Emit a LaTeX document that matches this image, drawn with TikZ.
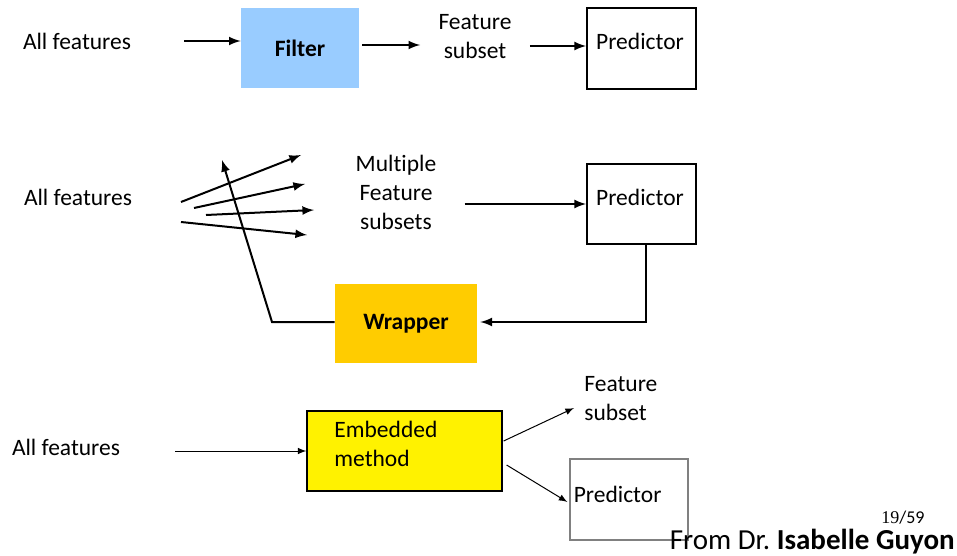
\documentclass[tikz,border=0pt]{standalone}
\usepackage{fontspec}
\setmainfont[Ligatures=CommonOff]{Carlito}
\newfontfamily\numfont{Liberation Serif}
\usetikzlibrary{positioning}

\definecolor{filterblue}{RGB}{153,204,255}
\definecolor{wrapgold}{RGB}{255,204,0}

\tikzset{
	txt/.style={inner sep=0pt, align=center, font=\fontsize{11.75}{14.5}\selectfont},
	box/.style={inner sep=0pt, minimum width=#1},
	arr/.style={-latex, line width=1pt},
	thinarr/.style={-latex, line width=0.5pt}
}

\begin{document}
\begin{tikzpicture}[x=0.5pt,y=-0.5pt]
	\useasboundingbox (0,0) rectangle (957,556);

	% filter
	\node[txt] (all1) at (77,41) {All features};
	\node[box=59pt, minimum height=40pt, fill=filterblue, txt, font=\fontsize{11.75}{14.5}\selectfont\bfseries] (filter) at (300,48) {Filter};
	\node[txt] (sub1) at (475,37) {Feature\\subset};
	\node[box=54.5pt, minimum height=40.5pt, draw, line width=1pt] (pred1) at (641.5,48.5) {};
	\node[txt] (predtxt1) at (640,41) {Predictor};
	\draw[arr, shorten <=26.5pt] (all1.east) -- (all1.east -| filter.west);
	\draw[arr, shorten <=1.5pt, shorten >=9pt] ([yshift=1.5pt]filter.east) -- ([yshift=1.5pt]filter.east -| sub1.west);
	\draw[arr, shorten <=9pt] ([yshift=-4.5pt]sub1.east) -- ([yshift=-4.5pt]sub1.east -| pred1.west);

	% wrapper
	\node[txt] (all2) at (78,197) {All features};
	\node[txt] (mult) at (396,192) {Multiple\\Feature\\subsets};
	\node[box=54.5pt, minimum height=40pt, draw, line width=1pt] (pred2) at (641.5,204) {};
	\node[txt] (predtxt2) at (640,197) {Predictor};
	\node[box=71pt, minimum height=39.5pt, fill=wrapgold, txt, font=\fontsize{11.75}{14.5}\selectfont\bfseries] (wrapper) at (406,323.5) {Wrapper};
	\foreach \i/\sx/\sy/\ex/\ey in {1/181/202/301/155, 2/194/208/305/184, 3/206/215/314/210, 4/181/222/307/235}{
		\coordinate (s\i) at (\sx,\sy);
		\coordinate (e\i) at (\ex,\ey);
		\draw[arr] (s\i) -- (e\i);
	}
	\coordinate (turn) at (272,322);
	\coordinate (back) at (222,160);
	\draw[arr, shorten <=14pt] (mult.east |- pred2) -- (pred2.west);
	\draw[arr, shorten >=1.5pt] ([xshift=2.25pt]pred2.south) -- ([xshift=2.25pt]pred2.south |- turn) -- (wrapper.east |- turn);
	\draw[arr] (wrapper.west |- turn) -- (turn) -- (back);

	% embedded
	\node[txt] (all3) at (66,447) {All features};
	\node[box=97.5pt, minimum height=40pt, draw, line width=0.6pt, fill=yellow] (embedded) at (404.5,451) {};
	\node[txt, align=left, anchor=west] (embtxt) at (334,444) {Embedded\\method};
	\node[txt, align=left, anchor=west] (sub3) at (584,399) {Feature\\subset};
	\node[box=59pt, minimum height=40.5pt, draw=gray, line width=0.6pt] (pred3) at (629,499.5) {};
	\node[txt, anchor=west] (predtxt3) at ([xshift=2pt,yshift=2.75pt]pred3.west) {Predictor};
	\draw[thinarr, shorten <=27.5pt] (all3.east |- embedded.west) -- (embedded.west);
	\draw[thinarr] ([xshift=0.5pt,yshift=5pt]embedded.east) -- ([xshift=-5pt,yshift=-4.5pt]sub3.west);
	\draw[thinarr] ([xshift=2pt,yshift=-7pt]embedded.east) -- ([xshift=-1pt,yshift=-1.25pt]pred3.west);

	\node[inner sep=0pt, font=\fontsize{9}{10}\selectfont] (page) at (903,518) {{\numfont 19}/59};
	\node[inner sep=0pt, anchor=east, font=\fontsize{14.5}{16}\selectfont] (source) at (955,542) {From Dr.\ \textbf{Isabelle Guyon}};
\end{tikzpicture}
\end{document}
